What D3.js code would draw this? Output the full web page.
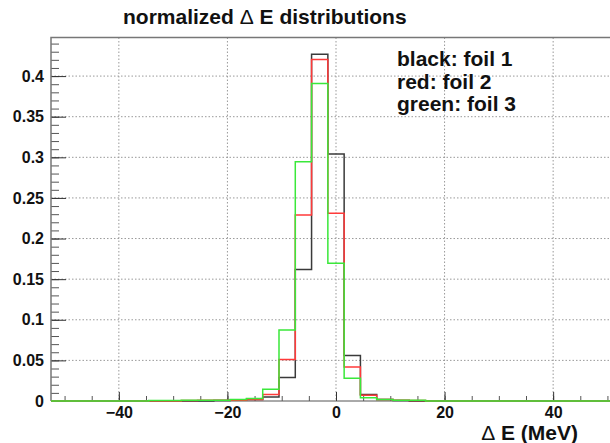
<!DOCTYPE html>
<html>
<head>
<meta charset="utf-8">
<script src="https://cdn.jsdelivr.net/npm/d3@7"></script>
<style>
  body { margin: 0; background: #fff; }
  svg { display: block; font-family: "Liberation Sans", Arial, Helvetica, sans-serif; }
</style>
</head>
<body>
<svg id="chart"></svg>
<script>
// bin centres (MeV), 35 bins of width 3 from -52.5 to 52.5
const binCenters = d3.range(-51, 52, 3);

// normalized contents (bins not listed are zero)
const foil1 = { "-21": 0.0005, "-18": 0.001, "-15": 0.002, "-12": 0.005, "-9": 0.029, "-6": 0.162,
                "-3": 0.427, "0": 0.304, "3": 0.056, "6": 0.008, "9": 0.002, "12": 0.0005 };
const foil2 = { "-27": 0.0005, "-24": 0.001, "-21": 0.001, "-18": 0.001, "-15": 0.002, "-12": 0.008,
                "-9": 0.051, "-6": 0.229, "-3": 0.4205, "0": 0.231, "3": 0.042, "6": 0.007,
                "9": 0.002, "12": 0.001, "15": 0.0005 };
const foil3 = { "-33": 0.0005, "-30": 0.0005, "-27": 0.001, "-24": 0.001, "-21": 0.001, "-18": 0.002,
                "-15": 0.003, "-12": 0.0144, "-9": 0.0874, "-6": 0.2945, "-3": 0.391, "0": 0.1695,
                "3": 0.028, "6": 0.004, "9": 0.002, "12": 0.001, "15": 0.001 };

const xMajor = [-40, -20, 0, 20, 40];
const yMajor = [0, 0.05, 0.1, 0.15, 0.2, 0.25, 0.3, 0.35, 0.4];
const legendLines = ["black: foil 1", "red: foil 2", "green: foil 3"];

const width = 610, height = 443;
const frame = { left: 51, right: 621, top: 37.5, bottom: 401 };
const binWidth = 3;

const svg = d3.select("#chart").attr("width", width).attr("height", height);

const x = d3.scaleLinear().domain([-52.5, 52.5]).range([frame.left, frame.right]);
const y = d3.scaleLinear().domain([0, 0.4475]).range([frame.bottom, frame.top]);

// grid
svg.append("g").selectAll("line.gx")
    .data(xMajor).enter().append("line")
    .attr("x1", d => x(d)).attr("x2", d => x(d))
    .attr("y1", frame.top).attr("y2", frame.bottom)
    .attr("stroke", "#999").attr("stroke-dasharray", "1.5,2");
svg.append("g").selectAll("line.gy")
    .data(yMajor.slice(1)).enter().append("line")
    .attr("x1", frame.left).attr("x2", frame.right)
    .attr("y1", d => y(d)).attr("y2", d => y(d))
    .attr("stroke", "#999").attr("stroke-dasharray", "1.5,2");

// axes
const yMinor = d3.range(0, 0.445, 0.01);
svg.append("g")
    .attr("transform", `translate(${frame.left},0)`)
    .call(d3.axisLeft(y).tickValues(yMinor).tickSize(-8).tickFormat(""))
    .call(g => g.select(".domain").remove())
    .selectAll("line").attr("stroke", "#555");

svg.append("g")
    .attr("transform", `translate(${frame.left},0)`)
    .call(d3.axisLeft(y).tickValues(yMajor).tickSize(-15).tickPadding(7).tickFormat(d => d3.format("")(+d.toFixed(2))))
    .call(g => g.select(".domain").remove())
    .call(g => g.selectAll("line").attr("stroke", "#333"))
    .call(g => g.selectAll("text").attr("font-size", 16).attr("font-weight", "bold").attr("fill", "#111"));

const xMinor = d3.range(-50, 51, 5);
svg.append("g")
    .attr("transform", `translate(0,${frame.bottom})`)
    .call(d3.axisBottom(x).tickValues(xMinor).tickSize(-5).tickFormat(""))
    .call(g => g.select(".domain").remove())
    .selectAll("line").attr("stroke", "#555");

svg.append("g")
    .attr("transform", `translate(0,${frame.bottom})`)
    .call(d3.axisBottom(x).tickValues(xMajor).tickSize(-9).tickPadding(6))
    .call(g => g.select(".domain").remove())
    .call(g => g.selectAll("line").attr("stroke", "#333"))
    .call(g => g.selectAll("text").attr("font-size", 16).attr("font-weight", "bold").attr("fill", "#111"));

// frame
svg.append("path")
    .attr("d", `M${frame.left},${frame.bottom}V${frame.top}H${frame.right}`)
    .attr("fill", "none").attr("stroke", "#777").attr("stroke-width", 1.5);
svg.append("line")
    .attr("x1", frame.left).attr("x2", frame.right)
    .attr("y1", frame.bottom).attr("y2", frame.bottom)
    .attr("stroke", "#555");

// histograms
function stepPath(h) {
    const pts = [[x(-52.5), y(0)]];
    binCenters.forEach(c => {
        const v = h[String(c)] || 0;
        pts.push([x(c - binWidth / 2), y(v)]);
        pts.push([x(c + binWidth / 2), y(v)]);
    });
    pts.push([x(52.5), y(0)]);
    return d3.line()(pts);
}

const series = [
    { h: foil1, color: "#3a3a3a" },
    { h: foil2, color: "#ff3a3a" },
    { h: foil3, color: "#3ae83a" }
];
svg.append("g").selectAll("path")
    .data(series).enter().append("path")
    .attr("d", d => stepPath(d.h))
    .attr("fill", "none")
    .attr("stroke", d => d.color)
    .attr("stroke-width", 1.5);

// title
const title = svg.append("text")
    .attr("x", 123).attr("y", 24)
    .attr("font-size", 21).attr("font-weight", "bold").attr("fill", "#111");
title.append("tspan").text("normalized ");
title.append("tspan").attr("font-weight", "normal").text("Δ");
title.append("tspan").text(" E distributions");

// legend text
svg.append("g").selectAll("text")
    .data(legendLines).enter().append("text")
    .attr("x", 397).attr("y", (d, i) => 66 + i * 22.5)
    .attr("font-size", 21).attr("font-weight", "bold").attr("fill", "#111")
    .text(d => d);

// x axis title
const xt = svg.append("text")
    .attr("x", 578).attr("y", 440).attr("text-anchor", "end")
    .attr("font-size", 21).attr("font-weight", "bold").attr("fill", "#111");
xt.append("tspan").attr("font-weight", "normal").text("Δ");
xt.append("tspan").text(" E (MeV)");
</script>
</body>
</html>
